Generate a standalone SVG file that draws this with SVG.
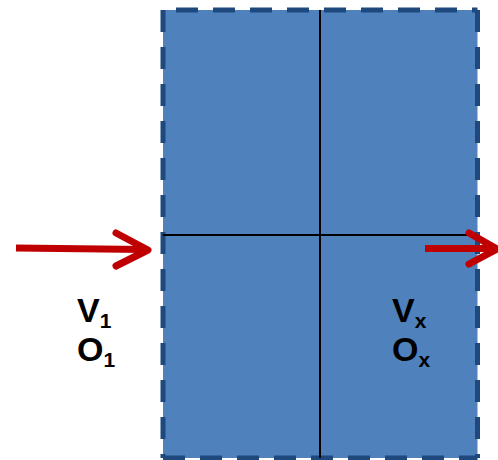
<svg xmlns="http://www.w3.org/2000/svg" width="498" height="460" viewBox="0 0 498 460">
<style>
.edge{stroke:#1F497D;stroke-width:5;stroke-dasharray:22 15;fill:none}
.grid{stroke:#000;stroke-width:2}
.arr{stroke:#C00000;stroke-width:7;fill:none;stroke-linecap:round;stroke-linejoin:round}
.lbl{font-family:"Liberation Sans",Arial,sans-serif;font-weight:bold;font-size:34px;fill:#000}
.sub{font-size:21px}
</style>
<g id="block">
<rect x="163" y="10" width="314.5" height="448" fill="#4F81BD"/>
<line class="edge" x1="163" y1="10" x2="163" y2="458"/>
<line class="edge" x1="163" y1="10" x2="477.5" y2="10" stroke-dashoffset="24"/>
<line class="edge" x1="477.5" y1="10" x2="477.5" y2="458"/>
<line class="edge" x1="163" y1="458" x2="477.5" y2="458"/>
<line class="grid" x1="320" y1="10" x2="320" y2="458"/>
<line class="grid" x1="163" y1="235" x2="478" y2="235"/>
</g>
<g id="connectors">
<g id="arrow-in">
<line class="arr" x1="16" y1="248" x2="145" y2="249.5" style="stroke-linecap:butt"/>
<polyline class="arr" points="116,233 148,250 116,266"/>
</g>
<g id="arrow-out">
<line class="arr" x1="425" y1="248.5" x2="494" y2="248.5" style="stroke-linecap:butt"/>
<polyline class="arr" points="469,233 497,249 469,264"/>
</g>
</g>
<g id="label-in">
<text class="lbl" x="77" y="322">V<tspan class="sub" dy="6">1</tspan></text>
<text class="lbl" x="77" y="361">O<tspan class="sub" dy="6">1</tspan></text>
</g>
<g id="label-out">
<text class="lbl" x="392" y="322">V<tspan class="sub" dy="6">x</tspan></text>
<text class="lbl" x="392" y="361">O<tspan class="sub" dy="6">x</tspan></text>
</g>
</svg>
